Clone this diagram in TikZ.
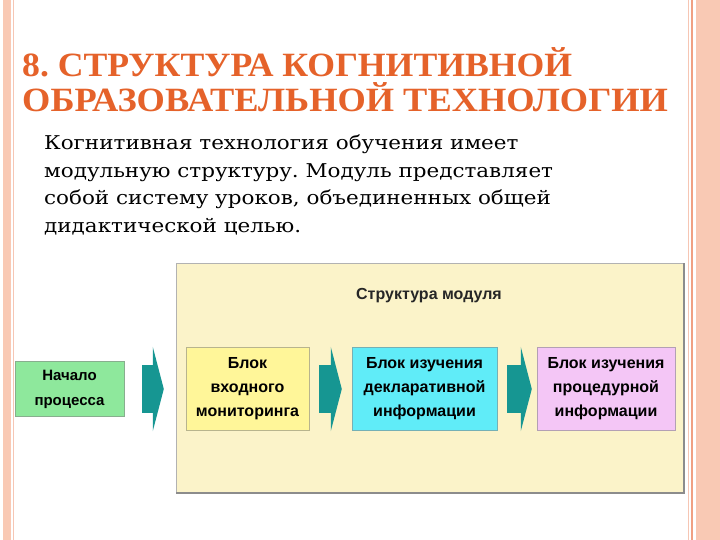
\documentclass[tikz,border=0pt]{standalone}
\usepackage{fontspec}
\usepackage{graphicx}
\setmainfont{DejaVu Serif}
\newfontfamily\titlefont{Liberation Serif}
\newfontfamily\blockfont{Liberation Sans}
\usetikzlibrary{positioning, arrows.meta}
\definecolor{SlideBand}{RGB}{249,201,180}
\definecolor{SlideLine}{RGB}{240,160,130}
\definecolor{TitleOrange}{RGB}{229,98,42}
\definecolor{PanelYellow}{RGB}{251,243,201}
\definecolor{StartGreen}{RGB}{142,232,156}
\definecolor{BlockYellow}{RGB}{255,246,153}
\definecolor{BlockCyan}{RGB}{96,236,248}
\definecolor{BlockPink}{RGB}{244,198,246}
\definecolor{ArrowTeal}{RGB}{22,150,146}
\frenchspacing

\begin{document}
\begin{tikzpicture}[x=1bp, y=-1bp,
          stepbox/.style={rectangle, minimum width=123bp, minimum height=83bp,
                          align=center, inner sep=0pt, draw=#1!60!black!70,
                          fill=#1, font=\blockfont\bfseries\fontsize{16bp}{24bp}\selectfont},
          tarr/.style={-{Triangle[length=11bp, width=84bp]}, draw=ArrowTeal,
                       line width=48bp},
          ttl/.style={anchor=base west, inner sep=0pt, text=TitleOrange,
                      font=\titlefont\bfseries\fontsize{34bp}{34bp}\selectfont}
        ]
        \useasboundingbox[fill=white] (0,0) rectangle (720,540);
        \fill[SlideBand] (3,0) rectangle (11,540);
        \draw[SlideLine!60, line width=1bp] (13.5,0) -- (13.5,540);
        \draw[SlideLine!60, line width=1bp] (688,0) -- (688,540);
        \draw[SlideLine, line width=1.5bp] (692,0) -- (692,540);
        \fill[SlideBand] (696,0) rectangle (720,540);

        \node[ttl] (ttl1) at (22,77)  {\scalebox{1.05}[1]{8. СТРУКТУРА КОГНИТИВНОЙ}};
        \node[ttl] (ttl2) at (22,112) {\scalebox{1.07}[1]{ОБРАЗОВАТЕЛЬНОЙ ТЕХНОЛОГИИ}};

        \node[anchor=north west, inner sep=0pt, align=left,
              font=\fontsize{19bp}{27.5bp}\selectfont] (intro) at (44,135)
              {\scalebox{1.13}[1]{Когнитивная технология обучения имеет}\\
               \scalebox{1.13}[1]{модульную структуру. Модуль представляет}\\
               \scalebox{1.13}[1]{собой систему уроков, объединенных общей}\\
               \scalebox{1.13}[1]{дидактической целью.}};

        \fill[PanelYellow] (176,263) rectangle (684,493);
        \draw[black!30, line width=0.8bp] (176,493) -- (176,263) -- (684,263);
        \draw[black!45, line width=1.5bp] (176,493) -- (684,493) -- (684,263);
        \node[font=\blockfont\bfseries\fontsize{16bp}{18bp}\selectfont, text=black!85] (mod) at (429,296)
              {Структура модуля};

        \node[stepbox=StartGreen, minimum width=109bp, minimum height=55bp,
              font=\blockfont\bfseries\fontsize{15bp}{25bp}\selectfont] (start) at (69.5,389)
              {Начало\\процесса};
        \node[stepbox=BlockYellow] (entry) at (247.5,389)
              {Блок\\входного\\мониторинга};
        \node[stepbox=BlockCyan, minimum width=145bp] (decl) at (424.5,389)
              {Блок изучения\\декларативной\\информации};
        \node[stepbox=BlockPink, minimum width=138bp] (proc) at (606,389)
              {Блок изучения\\процедурной\\информации};

        \draw[tarr, shorten <=18bp, shorten >=22bp] (start) -- (entry);
        \draw[tarr, shorten <=10bp, shorten >=10bp] (entry) -- (decl);
        \draw[tarr, shorten <=10bp, shorten >=5bp]  (decl)  -- (proc);
      \end{tikzpicture}
\end{document}
